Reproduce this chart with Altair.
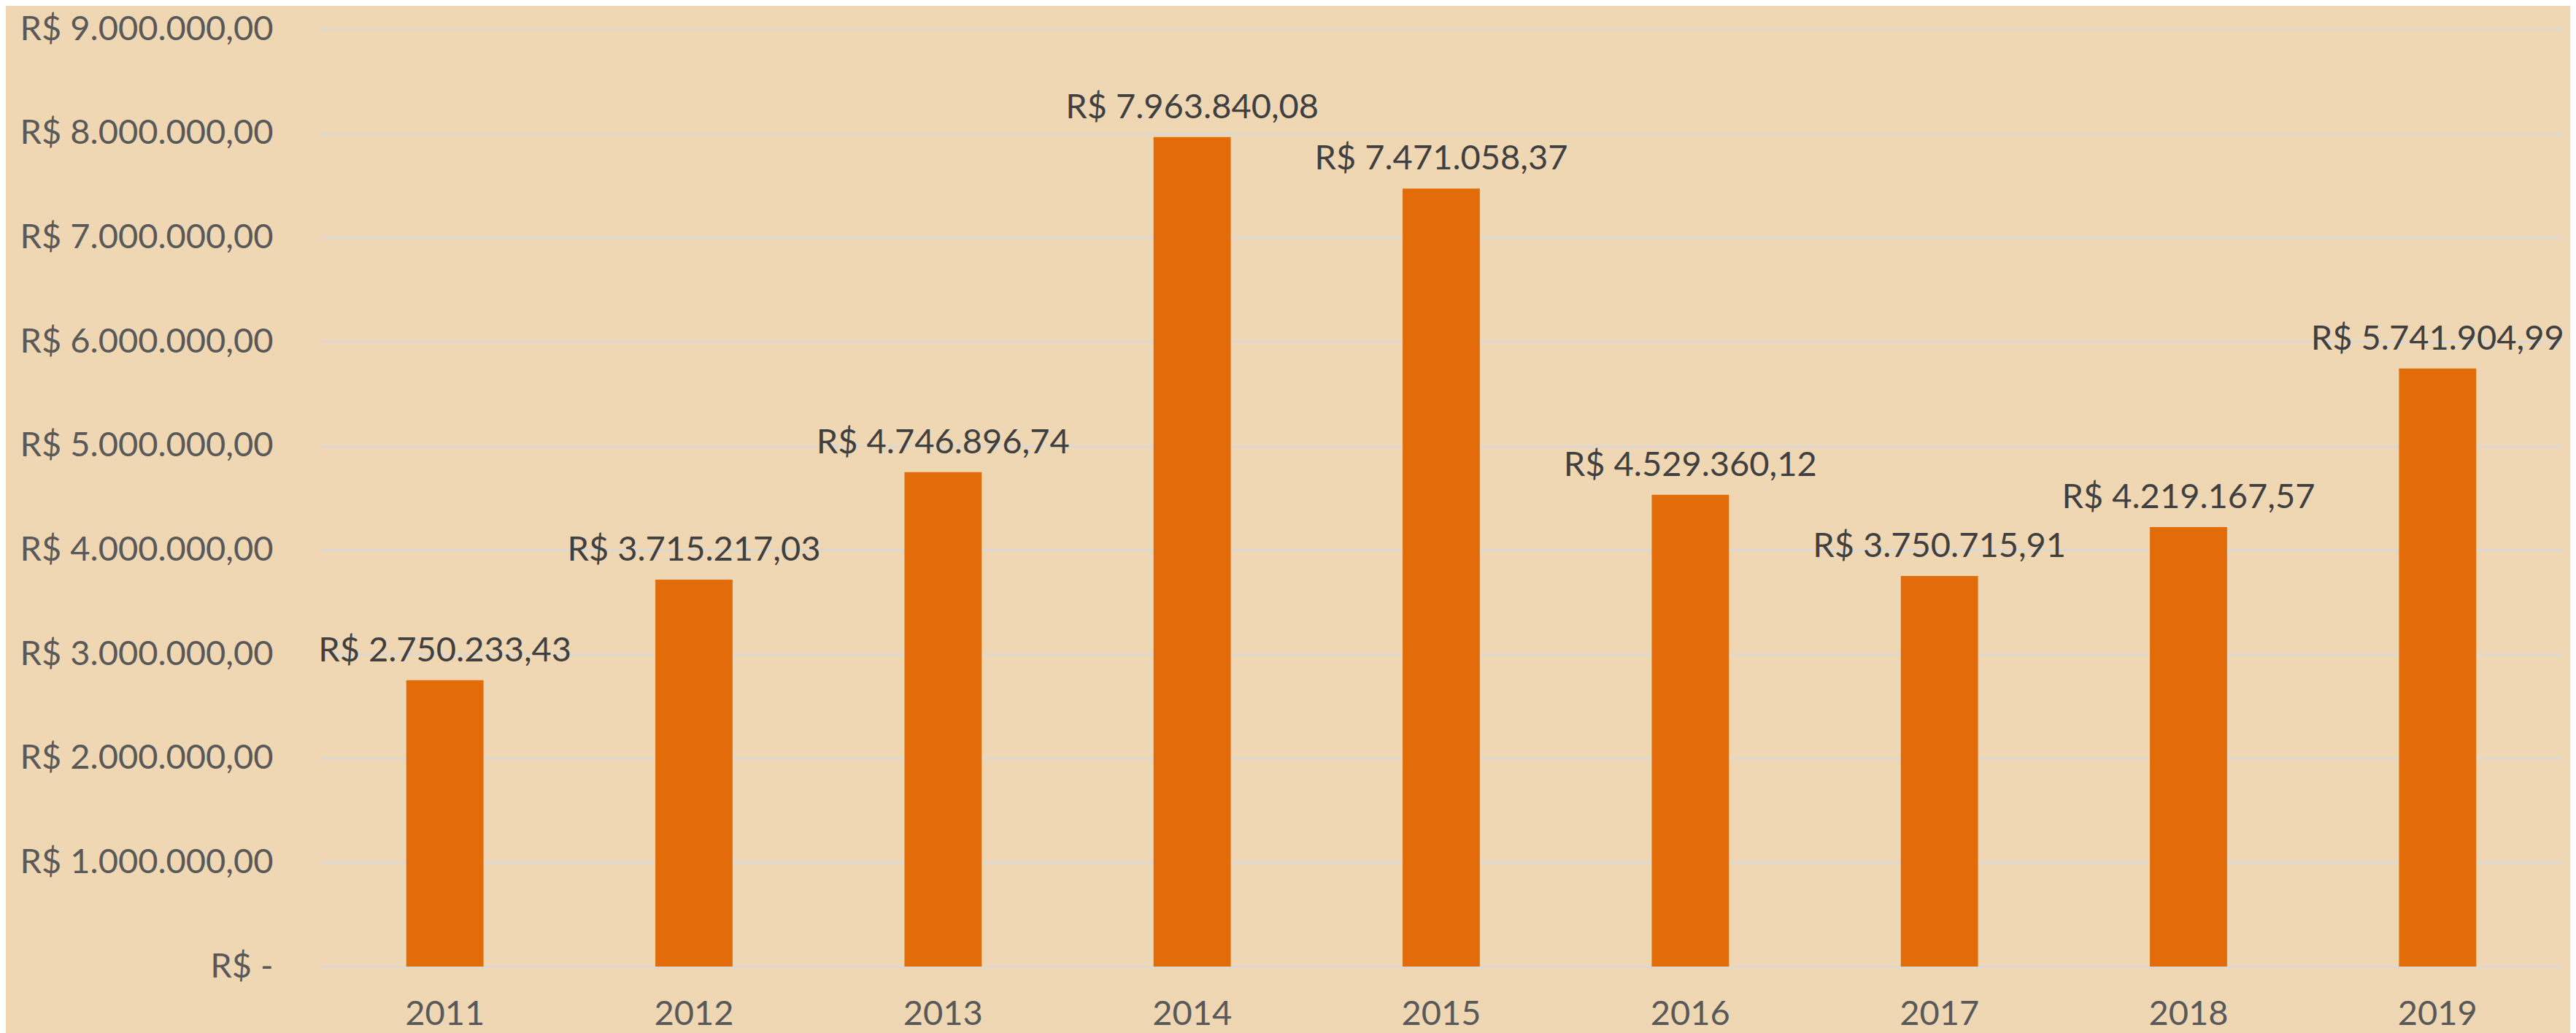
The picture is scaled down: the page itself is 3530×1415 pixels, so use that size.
import altair as alt
import pandas as pd

years = ["2011", "2012", "2013", "2014", "2015", "2016", "2017", "2018", "2019"]
values = [2750233.43, 3715217.03, 4746896.74, 7963840.08, 7471058.37,
          4529360.12, 3750715.91, 4219167.57, 5741904.99]
y_ticks = [0, 1000000, 2000000, 3000000, 4000000, 5000000, 6000000, 7000000, 8000000, 9000000]


def brl(v):
    s = f"{v:,.2f}".replace(",", "X").replace(".", ",").replace("X", ".")
    return "R$ " + s


df = pd.DataFrame({"year": years, "value": values, "label": [brl(v) for v in values]})

FONT = "Lato"
FS = 47

x_enc = alt.X(
    "year:N",
    sort=years,
    scale=alt.Scale(paddingInner=0.69, paddingOuter=0.345),
    axis=alt.Axis(
        title=None, domain=False, ticks=False, labelAngle=0,
        labelFont=FONT, labelFontSize=FS, labelColor="#595959", labelPadding=42,
    ),
)

y_enc = alt.Y(
    "value:Q",
    scale=alt.Scale(domain=[0, 9000000], nice=False),
    axis=alt.Axis(
        title=None, domain=False, ticks=False, tickSize=0, values=y_ticks,
        grid=True, gridColor="#D9D9D9", gridWidth=2.5,
        labelFont=FONT, labelFontSize=FS, labelColor="#595959", labelPadding=65,
        labelLimit=0,
        labelExpr="datum.value == 0 ? 'R$ -\u00a0\u00a0' : 'R$ ' + format(datum.value / 1000000, 'd') + '.000.000,00'",
    ),
)

bars = alt.Chart(df).mark_bar(color="#E36C0A").encode(x=x_enc, y=y_enc)

labels = alt.Chart(df).mark_text(
    baseline="alphabetic", align="center", dy=-26,
    font=FONT, fontSize=FS, color="#404040",
).encode(x=alt.X("year:N", sort=years), y=alt.Y("value:Q"), text="label:N")

chart = alt.layer(bars, labels).properties(
    width=3072,
    height=1284,
    autosize="none",
    padding={"left": 431, "top": 32, "right": 11, "bottom": 91},
    background="#F0D7B4",
).configure_view(stroke=None)

chart.save("out.html", embed_options={"renderer": "svg", "actions": False})
